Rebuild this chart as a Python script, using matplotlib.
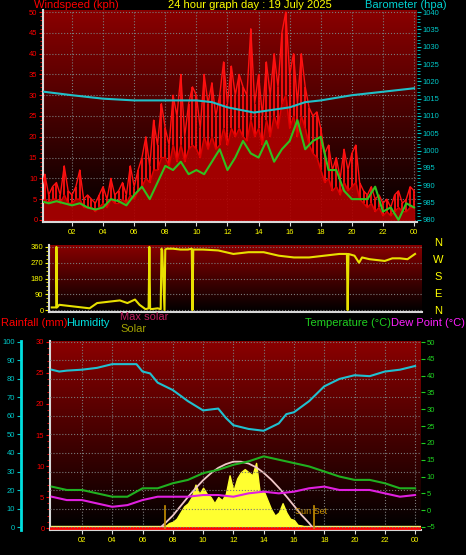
import numpy as np
import matplotlib
matplotlib.use("Agg")
import matplotlib.pyplot as plt
from matplotlib.colors import LinearSegmentedColormap

# ---------------- data ----------------
gust_hours = [i * 0.25 for i in range(97)]
gust = [7, 11, 6, 8, 9, 6, 13, 7, 6, 8, 12, 5, 6, 5, 4, 6, 8, 5, 10, 6, 7, 9, 6, 13,
        8, 12, 15, 20, 13, 24, 18, 28, 22, 18, 30, 25, 35, 20, 28, 32, 30, 22, 35, 28,
        33, 25, 30, 38, 28, 37, 30, 35, 32, 30, 46, 28, 35, 25, 38, 30, 40, 32, 45, 50,
        35, 40, 28, 40, 32, 27, 25, 26, 22, 16, 18, 12, 15, 10, 17, 12, 16, 18, 9, 7,
        6, 8, 5, 6, 4, 5, 3, 6, 7, 4, 5, 8, 7]
gust_low = [4, 5, 4, 5, 5, 4, 6, 4, 4, 5, 5, 3, 3, 3, 2, 3, 4, 3, 5, 4, 4, 5, 4, 6,
            5, 7, 8, 10, 9, 12, 12, 15, 15, 13, 18, 14, 18, 14, 17, 18, 17, 15, 20, 17,
            20, 17, 18, 22, 18, 22, 20, 22, 20, 19, 24, 20, 22, 18, 24, 20, 25, 22, 28, 30,
            22, 25, 20, 25, 22, 18, 16, 15, 12, 9, 10, 7, 8, 6, 9, 7, 8, 9, 5, 4,
            3, 4, 2, 3, 1, 2, 1, 2, 3, 2, 2, 3, 3]
avg_hours = [i * 0.5 for i in range(49)]
avg = [4.5, 4, 4.5, 4, 3.5, 4, 3, 2.5, 3, 5, 4.5, 3.5, 6, 8, 5, 9, 13, 12, 14, 11,
       12, 11, 14, 17, 12, 15, 19, 16, 15, 19, 14, 17, 19, 24, 17, 19, 20, 12, 12, 7,
       5, 5, 5, 8, 2, 3, 0, 4, 3]
baro_hours = [0.2, 2, 4, 6, 8, 10, 11, 12, 13.7, 16, 17, 18, 20, 22, 24]
baro = [1017, 1016, 1015, 1014.5, 1014.5, 1014.5, 1014, 1012.5, 1011, 1012.5, 1014, 1014.5, 1016, 1017, 1018]

dir_hours = [0.0, 0.3, 0.31, 0.35, 0.5, 1, 1.5, 2, 2.5, 3, 3.5, 4, 4.5, 5, 5.5, 5.8, 6.2, 6.4,
             6.45, 6.5, 6.55, 7.0, 7.2, 7.25, 7.3, 7.45, 7.5, 7.6, 8, 8.5, 9, 9.25, 9.3, 9.35,
             10, 11, 12, 13, 14, 15, 16, 17, 18, 19, 19.5, 19.55, 19.6, 20, 20.3, 20.5,
             21, 21.5, 22, 22.5, 23, 23.5, 24]
direction = [15, 15, 360, 15, 30, 25, 20, 15, 10, 40, 45, 50, 55, 40, 60, 30, 5, 10,
             360, 10, 5, 10, 5, 350, 340, 0, 345, 350, 350, 345, 345, 350, 0, 345,
             345, 340, 320, 330, 330, 310, 300, 300, 310, 320, 320, 0, 320, 310, 270, 300,
             290, 285, 280, 295, 295, 290, 320]

hum_hours = [0, 0.5, 1, 2, 3, 4, 5, 5.6, 6, 6.5, 7, 8, 9, 10, 11, 11.5, 12, 13, 14, 15, 15.5,
             16, 17, 18, 19, 20, 21, 22, 23, 24]
humidity = [85, 84, 84.5, 85, 86, 88, 88, 88, 84, 83, 78, 74, 68, 63, 64, 59, 55, 53, 52, 56, 61,
            62, 68, 76, 80, 82, 81.5, 84, 85, 87]
temp_hours = list(range(25))
temperature = [7, 6, 6, 5, 4, 4, 6.5, 6.5, 8, 9, 11, 12, 13.5, 14.5, 16, 15, 14, 13, 11.5, 10, 9, 9, 8, 6.5, 6.5]
dewpoint = [4, 3, 3, 2, 1, 1.5, 3, 4, 4, 4, 4.5, 4.5, 4, 5, 5.5, 5, 5.5, 6.5, 7, 6, 6, 6, 5, 4, 4.5]
maxsol_hours = [7.15, 7.5, 8, 8.5, 9, 9.5, 10, 10.5, 11, 11.5, 12, 12.5, 13, 13.5, 14, 14.5, 15,
                15.5, 16, 16.5, 17, 17.26]
maxsolar = [0, 0.8, 2.0, 3.5, 5.0, 6.4, 7.7, 8.8, 9.7, 10.3, 10.7, 10.7, 10.4, 9.8, 8.9, 7.8, 6.5,
            5.1, 3.6, 2.1, 0.8, 0]
sol_hours = [7.5 + 0.25 * i for i in range(39)]
solar = [0.3, 0.8, 1, 1.5, 2.5, 3.5, 4.0, 5, 7, 5.5, 6.5, 5.5, 5, 4, 5, 4.5, 5.5, 8.5, 6, 8,
         9, 9.5, 9.0, 8.5, 10.5, 5.5, 6, 4.5, 3, 2, 2.5, 4, 2.5, 1.5, 1.3, 0.5, 0.4, 0.2, 0]
rain_hours = [-0.1, 24.3]
rain = [0, 0]
xlabels = ['02', '04', '06', '08', '10', '12', '14', '16', '18', '20', '22', '00']
xticks = [2, 4, 6, 8, 10, 12, 14, 16, 18, 20, 22, 24]

W, H = 466, 555
fig = plt.figure(figsize=(W / 100, H / 100), dpi=100, facecolor='black')
plt.rcParams['font.family'] = ['Liberation Sans', 'DejaVu Sans']
cmap = LinearSegmentedColormap.from_list('bg', ['#000000', '#8a0000'])
TS = 5.5
FS = 8

def mkax(l, r, t, b):
    return fig.add_axes([l / W, 1 - b / H, (r - l) / W, (b - t) / H])

def style(ax, ycol):
    ax.set_facecolor('black')
    ax.imshow(np.linspace(0, 1, 100).reshape(-1, 1), cmap=cmap, aspect='auto',
              extent=[0, 1, 1, 0], transform=ax.transAxes, zorder=0)
    for s in ax.spines.values():
        s.set_visible(False)
    for k in ('left', 'bottom'):
        ax.spines[k].set_visible(True)
        ax.spines[k].set_color('#d8d8d8')
        ax.spines[k].set_linewidth(1.5)
    ax.tick_params(axis='y', colors=ycol, labelsize=TS, length=3, pad=1)
    ax.tick_params(axis='x', colors='#d8d8d8', labelcolor='yellow', labelsize=TS, length=3, pad=2)
    ax.grid(True, color='#7a7a7a', linestyle=':', linewidth=0.8)

# ---------------- top panel ----------------
ax1 = mkax(43, 417, 10, 222)
style(ax1, 'red')
ax1.set_xlim(0.135, 24.19)
ax1.set_ylim(-0.5, 50.5)
ax1.set_yticks(range(0, 51, 5))
ax1.set_yticks(np.arange(0, 51, 1), minor=True)
ax1.tick_params(axis='y', which='minor', colors='red', length=2)
ax1.set_xticks(xticks)
ax1.set_xticklabels(xlabels)
ax1.fill_between(gust_hours, 0, gust_low, color='#b00000', zorder=2, alpha=0.9)
ax1.vlines(gust_hours, gust_low, gust, color='#ff1010', lw=1.3, zorder=3)
ax1.plot(gust_hours, gust, color='#ff1010', lw=1.0, zorder=3)
ax1.plot(gust_hours, gust_low, color='#e00000', lw=1.0, zorder=3)
ax1.plot(avg_hours, avg, color='#30c020', lw=1.5, zorder=4)
ax1b = ax1.twinx()
ax1b.set_ylim(979.4, 1040.6)
ax1b.set_yticks(range(980, 1041, 5))
ax1b.tick_params(axis='y', colors='#00c8c8', labelsize=TS, length=3, pad=1)
ax1b.set_yticks(np.arange(980, 1041, 1), minor=True)
ax1b.tick_params(axis='y', which='minor', colors='#00c8c8', length=2)
for s in ax1b.spines.values():
    s.set_visible(False)
ax1b.plot(baro_hours, baro, color='#20c0c8', lw=1.5, zorder=5)

fig.text(34 / W, 1 - 0 / H, 'Windspeed (kph)', color='red', fontsize=FS, va='top')
fig.text(250 / W, 1 - 0 / H, '24 hour graph day : 19 July 2025', color='yellow', fontsize=FS, va='top', ha='center')
fig.text(447 / W, 1 - 0 / H, 'Barometer (hpa)', color='#00d0d0', fontsize=FS, va='top', ha='right')

# ---------------- direction panel ----------------
ax2 = mkax(49, 422, 245, 312)
style(ax2, 'yellow')
ax2.set_xlim(-0.18, 24.46)
ax2.set_ylim(-11, 371)
ax2.set_yticks([0, 90, 180, 270, 360])
ax2.set_yticks(np.arange(0, 361, 22.5), minor=True)
ax2.tick_params(axis='y', which='minor', colors='yellow', length=2)
ax2.set_xticks(xticks)
ax2.set_xticklabels([])
ax2.tick_params(axis='x', length=0)
ax2.grid(False, axis='x')
ax2.plot(dir_hours, direction, color='#e8e000', lw=1.5, zorder=3)
for i, c in enumerate(['N', 'W', 'S', 'E', 'N']):
    fig.text(438 / W, 1 - (238 + i * 17) / H, c, color='yellow', fontsize=FS, va='top', ha='center')

fig.text(1 / W, 1 - 318 / H, 'Rainfall (mm)', color='red', fontsize=FS, va='top')
fig.text(66 / W, 1 - 318 / H, 'Humidity', color='#00e0e0', fontsize=FS, va='top')
fig.text(120 / W, 1 - 312 / H, 'Max solar', color='#c02060', fontsize=FS, va='top')
fig.text(120 / W, 1 - 324 / H, 'Solar', color='#a0a000', fontsize=FS, va='top')
fig.text(391 / W, 1 - 318 / H, 'Temperature (°C)', color='#20d020', fontsize=FS, va='top', ha='right')
fig.text(465 / W, 1 - 318 / H, 'Dew Point (°C)', color='#ff20ff', fontsize=FS, va='top', ha='right')

# ---------------- bottom panel ----------------
ax3 = mkax(50, 421, 341, 530)
style(ax3, 'red')
ax3.set_xlim(-0.11, 24.39)
ax3.set_ylim(-0.32, 30.16)
ax3.set_yticks([0, 5, 10, 15, 20, 25, 30])
ax3.set_yticks(np.arange(0, 31, 1), minor=True)
ax3.tick_params(axis='y', which='minor', colors='red', length=2)
ax3.set_xticks(xticks)
ax3.set_xticklabels(xlabels)
ax3.grid(False, axis='y')
ax3.fill_between(sol_hours, 0, solar, color='#ffff30', zorder=3)
ax3.plot(maxsol_hours, maxsolar, color='#f0c8c8', lw=1.3, zorder=4)
ax3.axhspan(-0.32, 0.25, color='#f0f070', zorder=2)
ax3.plot(rain_hours, rain, color='red', lw=2, zorder=5)
ax3.plot([7.5, 7.5], [0, 3.5], color='#c89000', lw=1.2, zorder=5)
ax3.plot([17.3, 17.3], [0, 3.5], color='#c89000', lw=1.2, zorder=5)
ax3.text(16.1, 2.3, 'Sun Set', color='#c89000', fontsize=6.5, zorder=6)

axh = ax3.twinx()
axh.set_ylim(-1.6, 100.5)
axh.yaxis.tick_left()
for s in axh.spines.values():
    s.set_visible(False)
axh.spines['left'].set_visible(True)
axh.spines['left'].set_position(('outward', 21))
axh.spines['left'].set_color('#00e0e0')
axh.spines['left'].set_linewidth(2)
axh.set_yticks(range(0, 101, 10))
axh.tick_params(axis='y', colors='#00c8c8', labelsize=TS, length=3, pad=1)
axh.grid(True, axis='y', color='#7a7a7a', linestyle=':', linewidth=0.8)
axh.plot(hum_hours, humidity, color='#20c0d0', lw=1.5, zorder=5)

axt = ax3.twinx()
axt.set_ylim(-5.9, 50.3)
for s in axt.spines.values():
    s.set_visible(False)
axt.set_yticks(range(-5, 51, 5))
axt.tick_params(axis='y', colors='#20d020', labelsize=TS, length=3, pad=1)
axt.plot(temp_hours, temperature, color='#20b020', lw=1.5, zorder=5)
axt.plot(temp_hours, dewpoint, color='#e020e0', lw=1.5, zorder=5)

fig.savefig('out.png', dpi=100, facecolor='black')
